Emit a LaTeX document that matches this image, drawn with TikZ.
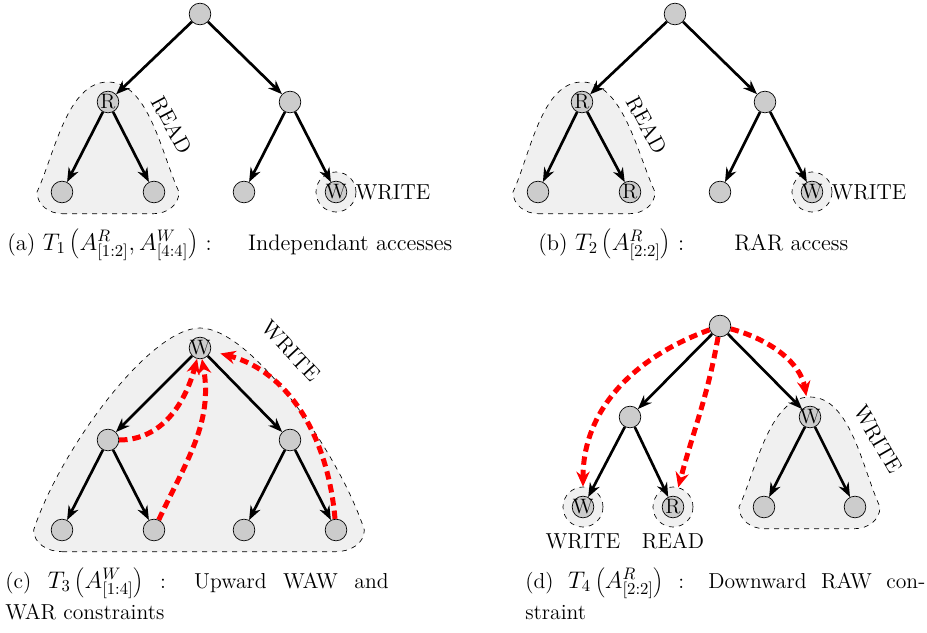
\documentclass[tikz,border=0pt]{standalone}
\usetikzlibrary{arrows.meta,positioning,calc,backgrounds}

\tikzset{
  vtx/.style={circle,draw,thin,fill=gray!40,minimum size=13pt,inner sep=0pt},
  every label/.append style={font=\fontsize{12.5}{14}\selectfont,inner sep=0pt},
  edge/.style={-{Stealth[length=8.5pt,width=6.5pt]},line width=1.6pt},
  dep/.style={-{Stealth[length=9pt,width=8pt]},red,line width=3pt,
    dash pattern=on 5pt off 3pt},
  group/.style={draw,dashed,thin,fill=gray!12},
  gcirc/.style={group,circle,minimum size=24pt,inner sep=0pt},
  lbl/.style={font=\fontsize{13}{15}\selectfont},
  capt/.style={font=\fontsize{13.5}{16}\selectfont,inner sep=0pt}
}

% shaded hull: top node, left leaf, right leaf, side pad, right side, left side
\newcommand\Hull[6]{%
  \path[group] ($(#2)+(0pt,-13pt)$) -- ($(#3)+(0pt,-13pt)$)
    to[out=0,in=-90] ($(#3)+(#4,0pt)$)
    to[#5] ($(#1)+(0pt,12pt)$)
    to[#6] ($(#2)+(-#4,0pt)$)
    to[out=-90,in=180] ($(#2)+(0pt,-13pt)$) -- cycle;}
\newcommand\capmath[1]{{\fontsize{14.4}{17}\selectfont$#1$}}

\begin{document}
\begin{tikzpicture}[x=0.6pt,y=0.6pt]
  \useasboundingbox (0,0) rectangle (927,-632);

  % (a)
  \node[vtx] (a0) at (200,-14) {};
  \node[vtx,label=center:R] (a1) at (108,-102) {};
  \node[vtx] (a2) at (290,-102) {};
  \node[vtx] (a3) at (62,-192) {};
  \node[vtx] (a4) at (154,-192) {};
  \node[vtx] (a5) at (244,-192) {};
  \node[vtx,label=center:W] (a6) at (336,-192) {};
  % (b)
  \node[vtx] (b0) at (675,-14) {};
  \node[vtx,label=center:R] (b1) at (582,-102) {};
  \node[vtx] (b2) at (765,-102) {};
  \node[vtx] (b3) at (538,-192) {};
  \node[vtx,label=center:R] (b4) at (630,-192) {};
  \node[vtx] (b5) at (720,-192) {};
  \node[vtx,label=center:W] (b6) at (812,-192) {};
  % (c)
  \node[vtx,label=center:W] (c0) at (200,-348) {};
  \node[vtx] (c1) at (108,-440) {};
  \node[vtx] (c2) at (290,-440) {};
  \node[vtx] (c3) at (62,-530) {};
  \node[vtx] (c4) at (154,-530) {};
  \node[vtx] (c5) at (244,-530) {};
  \node[vtx] (c6) at (336,-530) {};
  % (d)
  \node[vtx] (d0) at (720,-326) {};
  \node[vtx] (d1) at (630,-417) {};
  \node[vtx,label=center:W] (d2) at (810,-417) {};
  \node[vtx,label=center:W] (d3) at (583,-507) {};
  \node[vtx,label=center:R] (d4) at (673,-507) {};
  \node[vtx] (d5) at (764,-507) {};
  \node[vtx] (d6) at (855,-507) {};

  \foreach \t in {a,b,c,d}
    \foreach \p/\c in {0/1,0/2,1/3,1/4,2/5,2/6}
      \draw[edge] (\t\p) -- (\t\c);

  \begin{scope}[on background layer]
    \Hull{a1}{a3}{a4}{15pt}{out=115,in=0,looseness=0.8}{out=180,in=65,looseness=0.8}
    \node[gcirc] (ga) at (a6) {};
    \Hull{b1}{b3}{b4}{15pt}{out=115,in=0,looseness=0.8}{out=180,in=65,looseness=0.8}
    \node[gcirc] (gb) at (b6) {};
    \Hull{c0}{c3}{c6}{17pt}{out=108,in=0,out looseness=0.8,in looseness=0.5}
      {out=180,in=72,out looseness=0.5,in looseness=0.8}
    \Hull{d2}{d5}{d6}{15pt}{out=115,in=0,looseness=0.8}{out=180,in=65,looseness=0.8}
    \node[gcirc] (gdw) at (d3) {};
    \node[gcirc] (gdr) at (d4) {};
  \end{scope}

  \node[lbl,rotate=-62] at (172,-125) {READ};
  \node[lbl,right=-4pt of ga] {WRITE};
  \node[lbl,rotate=-62] at (647,-125) {READ};
  \node[lbl,right=-4pt of gb] {WRITE};
  \node[lbl,rotate=-47] at (291,-351) {WRITE};
  \node[lbl,rotate=-60] at (878,-439) {WRITE};
  \node[lbl,below=0pt of gdw] {WRITE};
  \node[lbl,below=0pt of gdr] {READ};

  % constraints
  \draw[dep] (c1) to[out=0,in=-105] (c0);
  \draw[dep] (c4) to[out=65,in=-80] (c0);
  \draw[dep,shorten >=6pt] (c6) to[out=95,in=-15] (c0);
  \draw[dep] (d0) to[out=200,in=90] (gdw);
  \draw[dep] (d0) to[out=-100,in=75] (gdr);
  \draw[dep,shorten >=6pt] (d0) to[out=-15,in=100] (d2);

  % captions
  \node[capt,anchor=base west] (capa) at (7,-250)
    {\hbox to 267pt{(a) \capmath{T_1\left(A^{R}_{[1:2]},A^{W}_{[4:4]}\right)} :\hfill
      Independant accesses}};
  \node[capt,anchor=base west] (capb) at (538,-250)
    {\hbox to 186pt{(b) \capmath{T_2\left(A^{R}_{[2:2]}\right)} :\hfill RAR access}};
  \node[capt,font=\fontsize{13}{18.6}\selectfont,anchor=north west,text width=230pt,
    align=justify] (capc) at (5,-567)
    {(c) \capmath{T_3\left(A^{W}_{[1:4]}\right)} : Upward WAW and\linebreak WAR constraints};
  \node[capt,font=\fontsize{13}{18.6}\selectfont,anchor=north west,text width=240pt,
    align=justify] (capd) at (525,-567)
    {(d) \capmath{T_4\left(A^{R}_{[2:2]}\right)} : Downward RAW con-\linebreak straint};
\end{tikzpicture}
\end{document}
